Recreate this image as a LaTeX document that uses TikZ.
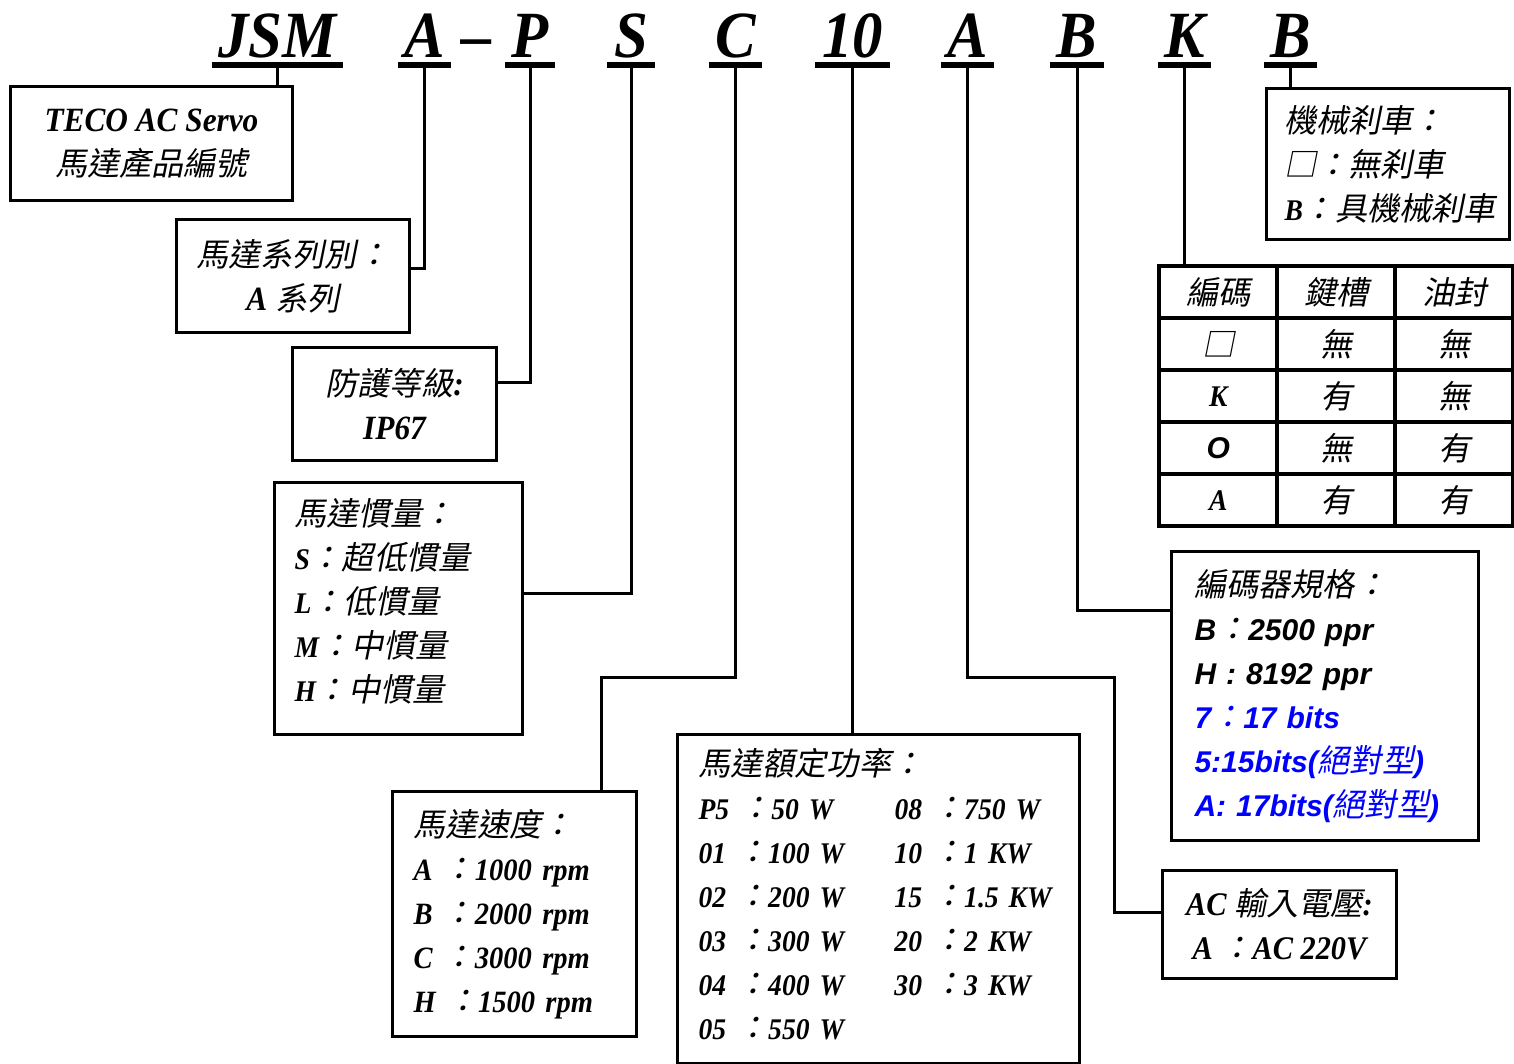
\documentclass[tikz,border=0pt]{standalone}
\usepackage{fontspec}
\usepackage{xcolor}
\setmainfont{Liberation Serif}[FakeStretch=0.92]
\newfontfamily\cjk{Noto Sans CJK TC}[FakeSlant=0.2,Scale=1.07]
\newfontfamily\arialfont{Liberation Sans}
\newcommand{\zh}[1]{{\cjk\mdseries\upshape\fontsize{15}{22}\selectfont #1}}
\usetikzlibrary{matrix}
\tikzset{
    code-text/.style = {font=\fontsize{33}{40}\selectfont\bfseries\itshape, anchor=base, text depth=0pt, inner ysep=3.75pt, outer sep=0pt},
    code-letter/.style = {code-text, append after command={(\tikzlastnode.south west) edge[line width=3pt] (\tikzlastnode.south east)}},
    lead-line/.style = {line width=1.5pt},
    spec-box/.style = {draw, line width=1.5pt, anchor=north west, inner xsep=10pt, inner ysep=0pt, font=\fontsize{15}{22}\selectfont\bfseries\itshape},
    big-box/.style = {spec-box, align=center, font=\fontsize{17}{22}\selectfont\bfseries\itshape},
    code-cell/.style = {draw, line width=2.2pt, minimum width=59pt, minimum height=26pt, inner sep=0pt, outer sep=0pt, anchor=center, font=\fontsize{15}{22}\selectfont\bfseries\itshape},
}

\begin{document}
\begin{tikzpicture}[x=0.5pt, y=-0.5pt]
\useasboundingbox (0,0) rectangle (1514,1064);

\node[code-letter, minimum width=62.5pt] (cJSM) at (277.5,58) {JSM};
\node[code-letter, minimum width=22.5pt] (cSeries) at (424.5,58) {A};
\node[code-text] (dash) at (477,58) {--};
\node[code-letter, minimum width=20pt] (cIP) at (530,58) {P};
\node[code-letter, minimum width=19pt] (cInertia) at (631,58) {S};
\node[code-letter, minimum width=21.5pt] (cSpeed) at (735.5,58) {C};
\node[code-letter, minimum width=32.5pt] (cPower) at (852.5,58) {10};
\node[code-letter, minimum width=22.5pt] (cVolt) at (967.5,58) {A};
\node[code-letter, minimum width=23pt] (cEnc) at (1077,58) {B};
\node[code-letter, minimum width=22.5pt] (cOpt) at (1184.5,58) {K};
\node[code-letter, minimum width=22.5pt] (cBrake) at (1290.5,58) {B};

\node[big-box, minimum width=141pt, minimum height=57pt] (teco) at (9,85)
    {TECO AC Servo\\\zh{馬達產品編號}};
\node[big-box, minimum width=114pt, minimum height=56.5pt] (series) at (175,218)
    {\zh{馬達系列別：}\\A \zh{系列}};
\node[big-box, minimum width=102pt, minimum height=56.5pt] (ip) at (291,346)
    {\zh{防護等級}:\\IP67};
\node[spec-box, align=left, text width=104pt, minimum height=126pt] (inertia) at (273,481)
    {\zh{馬達慣量：}\\S\zh{：超低慣量}\\L\zh{：低慣量}\\M\zh{：中慣量}\\H\zh{：中慣量}\rule[-8pt]{0pt}{8pt}};
\node[spec-box, align=left, inner xsep=10.5pt, text width=101pt, minimum height=122.5pt, font=\fontsize{15.5}{22}\selectfont\bfseries\itshape] (speed) at (391,790)
    {\zh{馬達速度：}\\A \zh{：}1000 rpm\\B \zh{：}2000 rpm\\C \zh{：}3000 rpm\\H \zh{：}1500 rpm};
\node[spec-box, align=left, inner xsep=10.5pt, text width=180pt, minimum height=164.5pt] (power) at (676,733)
    {\begin{tabular}{@{}p{98pt}@{}l@{}}
     \multicolumn{2}{@{}l@{}}{\zh{馬達額定功率：}}\\
     P5 \zh{：}50 W & 08 \zh{：}750 W\\
     01 \zh{：}100 W & 10 \zh{：}1 KW\\
     02 \zh{：}200 W & 15 \zh{：}1.5 KW\\
     03 \zh{：}300 W & 20 \zh{：}2 KW\\
     04 \zh{：}400 W & 30 \zh{：}3 KW\\
     05 \zh{：}550 W & \\
     \end{tabular}};
\node[spec-box, align=left, inner xsep=9pt, text width=103.5pt, minimum height=75.5pt] (brake) at (1265,87)
    {\zh{機械刹車：}\\\zh{□：無刹車}\\B\zh{：具機械刹車}};
\node[spec-box, align=left, inner xsep=11.5pt, text width=130.5pt, minimum height=144.5pt, font=\fontsize{15}{22}\selectfont\arialfont\bfseries\itshape] (enc) at (1170,550)
    {\zh{編碼器規格：}\\B\zh{：}2500 ppr\\H : 8192 ppr\\
     \textcolor{blue}{7\zh{：}17 bits}\\
     \textcolor{blue}{5:15bits(\zh{絕對型})}\\
     \textcolor{blue}{A: 17bits(\zh{絕對型})}};
\node[big-box, minimum width=117pt, minimum height=54pt, font=\fontsize{16.5}{22}\selectfont\bfseries\itshape] (volt) at (1161,869)
    {AC \zh{輸入電壓}:\\A \zh{：}AC 220V};

\matrix[matrix of nodes, anchor=north west, inner sep=0pt, outer sep=0pt, nodes={code-cell}, column sep=-2.2pt, row sep=-2.2pt] (codes) at (1157,264) {
    \zh{編碼} & \zh{鍵槽} & \zh{油封}\\
    \zh{□} & \zh{無} & \zh{無}\\
    K & \zh{有} & \zh{無}\\
    {\arialfont O} & \zh{無} & \zh{有}\\
    A & \zh{有} & \zh{有}\\
};

\coordinate (speed-bend) at (601,677);
\coordinate (volt-bend) at (1114,677);

\draw[lead-line] (cJSM.south) -- (cJSM.south |- teco.north);
\draw[lead-line] (cSeries.south) |- (series.east |- 0,268);
\draw[lead-line] (cIP.south) |- (ip.east |- 0,382);
\draw[lead-line] (cInertia.south) |- (inertia.east |- 0,593);
\draw[lead-line] (cSpeed.south) |- (speed-bend) -- (speed-bend |- speed.north);
\draw[lead-line] (cPower.south) -- (cPower.south |- power.north);
\draw[lead-line] (cVolt.south) |- (volt-bend) |- (volt.west |- 0,912);
\draw[lead-line] (cEnc.south) |- (enc.west |- 0,610);
\draw[lead-line] (cOpt.south) -- (cOpt.south |- codes.north);
\draw[lead-line] (cBrake.south) -- (cBrake.south |- brake.north);
\end{tikzpicture}
\end{document}
